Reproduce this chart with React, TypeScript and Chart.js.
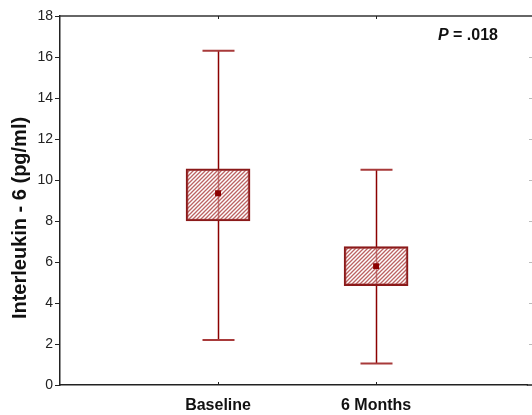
import React, { useEffect, useRef } from "react";
import { Chart, registerables } from "chart.js";

Chart.register(...registerables);

const categories = ["Baseline", "6 Months"];
const categoryPositions = [1, 2];
const xMin = 0;
const xMax = 2.96;
const whiskerHigh = [16.3, 10.5];
const boxHigh = [10.55, 6.75];
const boxLow = [8.0, 4.85];
const meanValues = [9.35, 5.8];
const whiskerLow = [2.2, 1.05];
const yMin = 0;
const yMax = 18;
const yStep = 2;
const pLabelItalic = "P";
const pLabelRest = " = .018";
const yTitle = "Interleukin - 6 (pg/ml)";

const FONT = "'Liberation Sans', Arial, Helvetica, sans-serif";
const DARK_RED = "#8b0000";

function makePattern(): CanvasPattern | string {
  const size = 4;
  const c = document.createElement("canvas");
  c.width = size;
  c.height = size;
  const g = c.getContext("2d");
  if (!g) return "rgba(200,120,120,0.5)";
  g.fillStyle = "rgba(255,255,255,0.5)";
  g.fillRect(0, 0, size, size);
  g.strokeStyle = "rgba(175,70,70,0.85)";
  g.lineWidth = 1.3;
  g.beginPath();
  g.moveTo(0, size);
  g.lineTo(size, 0);
  g.moveTo(-size / 2, size / 2);
  g.lineTo(size / 2, -size / 2);
  g.moveTo(size / 2, size * 1.5);
  g.lineTo(size * 1.5, size / 2);
  g.stroke();
  const p = g.createPattern(c, "repeat");
  return p || "rgba(200,120,120,0.5)";
}

export default function App() {
  const ref = useRef<HTMLCanvasElement | null>(null);

  useEffect(() => {
    if (!ref.current) return;
    const pattern = makePattern();

    const whiskerPlugin = {
      id: "whiskers",
      beforeDatasetsDraw(chart: any) {
        const { ctx, scales } = chart;
        const xs = scales.x;
        const ys = scales.y;
        ctx.save();
        categoryPositions.forEach((pos, i) => {
          const x = Math.round(xs.getPixelForValue(pos)) + 0.5;
          const yTop = ys.getPixelForValue(whiskerHigh[i]);
          const yBot = ys.getPixelForValue(whiskerLow[i]);
          ctx.strokeStyle = DARK_RED;
          ctx.lineWidth = 1.5;
          ctx.beginPath();
          ctx.moveTo(x, yTop);
          ctx.lineTo(x, yBot);
          ctx.stroke();
          ctx.strokeStyle = "#a83a3a";
          ctx.lineWidth = 2;
          ctx.beginPath();
          ctx.moveTo(x - 16, yTop);
          ctx.lineTo(x + 16, yTop);
          ctx.moveTo(x - 16, yBot);
          ctx.lineTo(x + 16, yBot);
          ctx.stroke();
        });
        ctx.restore();
      },
      afterDraw(chart: any) {
        const { ctx, scales, chartArea } = chart;
        const xs = scales.x;
        const ys = scales.y;
        ctx.save();
        // top border and extension of bottom axis to the edge
        ctx.strokeStyle = "#333";
        ctx.lineWidth = 1.5;
        ctx.beginPath();
        ctx.moveTo(chartArea.left, chartArea.top);
        ctx.lineTo(chart.width, chartArea.top);
        ctx.stroke();
        ctx.strokeStyle = "#222";
        ctx.beginPath();
        ctx.moveTo(chartArea.right - 1, chartArea.bottom);
        ctx.lineTo(chart.width, chartArea.bottom);
        ctx.stroke();
        // inward category ticks top & bottom
        ctx.lineWidth = 1;
        categoryPositions.forEach((pos) => {
          const x = Math.round(xs.getPixelForValue(pos)) + 0.5;
          ctx.beginPath();
          ctx.moveTo(x, chartArea.top);
          ctx.lineTo(x, chartArea.top + 3);
          ctx.moveTo(x, chartArea.bottom);
          ctx.lineTo(x, chartArea.bottom - 3);
          ctx.stroke();
        });
        // faint right ticks
        ctx.strokeStyle = "#bbb";
        for (let v = yMin + yStep; v < yMax; v += yStep) {
          const y = Math.round(ys.getPixelForValue(v)) + 0.5;
          ctx.beginPath();
          ctx.moveTo(chart.width - 3, y);
          ctx.lineTo(chart.width, y);
          ctx.stroke();
        }
        // y title
        ctx.fillStyle = "#111";
        ctx.font = `bold 20px ${FONT}`;
        ctx.textAlign = "center";
        ctx.textBaseline = "middle";
        ctx.translate(20, 218);
        ctx.rotate(-Math.PI / 2);
        ctx.fillText(yTitle, 0, 0);
        ctx.restore();

        // P value
        ctx.save();
        ctx.fillStyle = "#111";
        ctx.textBaseline = "alphabetic";
        ctx.textAlign = "left";
        ctx.font = `bold 16px ${FONT}`;
        const restW = ctx.measureText(pLabelRest).width;
        ctx.font = `italic bold 16px ${FONT}`;
        const pW = ctx.measureText(pLabelItalic).width;
        const endX = chart.width - 34;
        const startX = endX - restW - pW;
        const baseY = chartArea.top + 24;
        ctx.fillText(pLabelItalic, startX, baseY);
        ctx.font = `bold 16px ${FONT}`;
        ctx.fillText(pLabelRest, startX + pW, baseY);
        ctx.restore();
      },
    };

    const chart = new Chart(ref.current, {
      type: "bar",
      data: {
        datasets: [
          {
            type: "scatter",
            data: categoryPositions.map((p, i) => ({ x: p, y: meanValues[i] })),
            pointStyle: "rect",
            pointRadius: 4.2,
            backgroundColor: DARK_RED,
            borderColor: DARK_RED,
            borderWidth: 0,
            order: 0,
          } as any,
          {
            type: "bar",
            data: categoryPositions.map((p, i) => ({ x: p, y: [boxLow[i], boxHigh[i]] })),
            backgroundColor: pattern as any,
            borderColor: "#8b1a1a",
            borderWidth: 2,
            borderSkipped: false,
            barThickness: 64,
            order: 1,
          } as any,
        ],
      },
      options: {
        animation: false,
        responsive: true,
        maintainAspectRatio: false,
        layout: { padding: { top: 16, right: 0, left: 0, bottom: 0 } },
        plugins: {
          legend: { display: false },
          tooltip: { enabled: false },
          title: { display: false },
        },
        scales: {
          x: {
            type: "linear",
            min: xMin,
            max: xMax,
            offset: false,
            position: "bottom",
            afterBuildTicks: (scale: any) => {
              scale.ticks = categoryPositions.map((v) => ({ value: v }));
            },
            afterFit: (scale: any) => {
              scale.height = 30;
            },
            ticks: {
              stepSize: 1,
              callback: (v: any) => {
                const idx = categoryPositions.indexOf(Number(v));
                return idx >= 0 ? categories[idx] : "";
              },
              font: { family: FONT, size: 16, weight: "bold" },
              color: "#111",
              padding: 11,
              maxRotation: 0,
            },
            grid: { display: true, offset: false, drawOnChartArea: false, drawTicks: false },
            border: { display: true, color: "#222", width: 1.5 },
          },
          y: {
            type: "linear",
            min: yMin,
            max: yMax,
            position: "left",
            afterFit: (scale: any) => {
              scale.width = 60;
            },
            ticks: {
              stepSize: yStep,
              font: { family: FONT, size: 14 },
              color: "#222",
              padding: 2,
            },
            grid: {
              display: true,
              drawOnChartArea: false,
              drawTicks: true,
              tickLength: 5,
              color: "#222",
            },
            border: { display: true, color: "#222", width: 1.5 },
          },
        },
      } as any,
      plugins: [whiskerPlugin],
    });

    return () => chart.destroy();
  }, []);

  return (
    <div style={{ position: "fixed", left: 0, top: 0, width: 532, height: 415, background: "#fff" }}>
      <canvas ref={ref} />
    </div>
  );
}
